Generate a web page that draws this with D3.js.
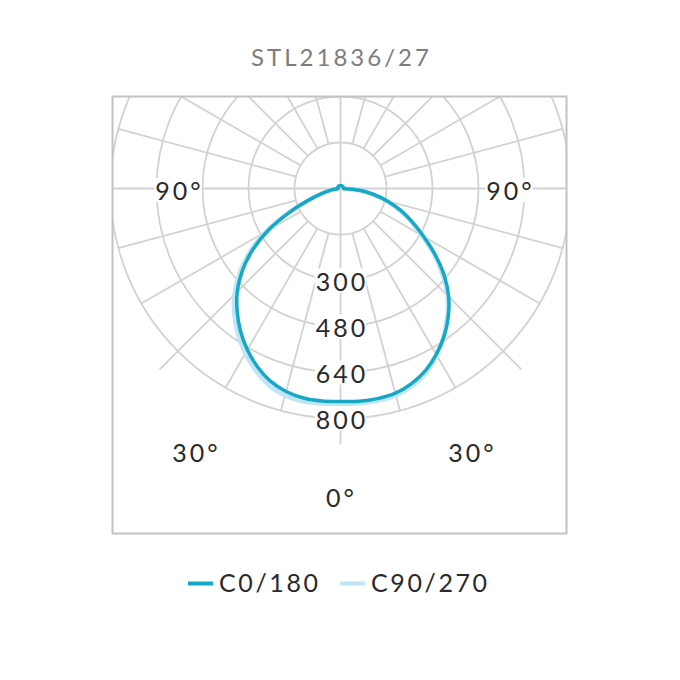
<!DOCTYPE html>
<html>
<head>
<meta charset="utf-8">
<script src="https://cdn.jsdelivr.net/npm/d3@7/dist/d3.min.js"></script>
<style>
  html, body { margin: 0; padding: 0; background: #fff; }
  svg { display: block; }
  text { font-family: Lato, "Noto Sans", sans-serif; }
</style>
</head>
<body>
<svg id="chart" width="680" height="680"></svg>
<script>
// ---- data ----
const title = "STL21836/27";
const angles = [0,5,10,15,20,25,30,35,40,45,50,55,60,65,70,75,80,85,90,
                95,100,105,110,115,120,125,130,135,140,145,150,155,160,165,170,175,180];
// C0/180 (dark): right half = C0, left half = C180
const c0   = [741,743,742,737,722,699,666,628,583,532,471,402,334,276,223,170,115,63,14,
              10,10,10,10,10,10,10,10,10,10,10,10,10,10,10,10,10,10];
const c180 = [741,742,740,731,713,684,648,606,559,508,446,374,290,196,118,66,34,17,8,
              10,10,10,10,10,10,10,10,10,10,10,10,10,10,10,10,10,10];
// C90/270 (light): right half = C90, left half = C270
const c90  = [749,750,749,745,730,706,670,626,578,526,463,396,328,270,216,162,110,60,12,
              10,10,10,10,10,10,10,10,10,10,10,10,10,10,10,10,10,10];
const c270 = [749,751,752,745,728,698,662,621,574,522,458,385,298,200,118,66,34,17,8,
              10,10,10,10,10,10,10,10,10,10,10,10,10,10,10,10,10,10];
const ringValues = [160, 320, 480, 640, 800];
const ringLabels = ["", "300", "480", "640", "800"];
const spokeAngles = [0,15,30,45,60,75,90,105,120,135,150,165,180,195,210,225,240,255,270,285,300,315,330,345];
const angleLabels = ["90°", "90°", "30°", "30°", "0°"];
const seriesNames = ["C0/180", "C90/270"];
const seriesColors = ["#17a8c6", "#bfe5f6"];

// ---- layout ----
const svg = d3.select("#chart");
const cx = 340.5, cy = 188.5;
const box = {x: 112.5, y: 96.5, w: 454, h: 437};
const r = d3.scaleLinear().domain([0, 800]).range([0, 230]);
const gridColor = "#d2d2d2";
const textColor = "#2a2a2a";

// title
svg.append("text")
  .attr("x", 340).attr("y", 58).attr("dy", "0.35em").attr("dx", 1.5)
  .attr("text-anchor", "middle")
  .attr("fill", "#7d7d7d")
  .attr("font-size", 24)
  .attr("letter-spacing", 3)
  .text(title);

svg.append("defs").append("clipPath").attr("id", "boxclip")
  .append("rect").attr("x", box.x).attr("y", box.y).attr("width", box.w).attr("height", box.h);

const g = svg.append("g").attr("clip-path", "url(#boxclip)");
const pg = g.append("g").attr("transform", `translate(${cx},${cy})`);

// rings
pg.selectAll("circle.ring").data(ringValues).join("circle")
  .attr("class", "ring")
  .attr("r", d => r(d))
  .attr("fill", "none").attr("stroke", gridColor).attr("stroke-width", 1.8);

// spokes: angle measured from downward vertical
const inner = r(ringValues[0]);
const outer = r(ringValues[ringValues.length - 1]);
function spokeStart(a) { return (a % 90 === 0) ? 0 : inner; }
function spokeEnd(a) { return (a === 0 || a === 45 || a === 315) ? 256 : (a % 90 === 0 ? 400 : outer); }
pg.selectAll("line.spoke").data(spokeAngles).join("line")
  .attr("class", "spoke")
  .attr("x1", a => spokeStart(a) * Math.sin(a * Math.PI / 180))
  .attr("y1", a => spokeStart(a) * Math.cos(a * Math.PI / 180))
  .attr("x2", a => spokeEnd(a) * Math.sin(a * Math.PI / 180))
  .attr("y2", a => spokeEnd(a) * Math.cos(a * Math.PI / 180))
  .attr("stroke", gridColor).attr("stroke-width", 1.8);

// curves
function buildPoints(right, left) {
  const pts = [];
  for (let i = angles.length - 1; i >= 0; i--) pts.push([Math.PI - angles[i] * Math.PI / 180, r(right[i])]);
  for (let i = 1; i < angles.length - 1; i++) pts.push([Math.PI + angles[i] * Math.PI / 180, r(left[i])]);
  return pts;
}
const radial = d3.lineRadial().angle(d => d[0]).radius(d => d[1]).curve(d3.curveCatmullRomClosed.alpha(0.5));
pg.append("path").attr("d", radial(buildPoints(c90, c270)))
  .attr("fill", "none").attr("stroke", seriesColors[1]).attr("stroke-width", 4.5).attr("stroke-linejoin", "round");
pg.append("path").attr("d", radial(buildPoints(c0, c180)))
  .attr("fill", "none").attr("stroke", seriesColors[0]).attr("stroke-width", 3.5).attr("stroke-linejoin", "round");

// labels with white background
const labelLayer = svg.append("g");
function addLabel(x, y, t) {
  const gg = labelLayer.append("g");
  const rect = gg.append("rect").attr("fill", "#fff");
  const tx = gg.append("text").attr("x", x).attr("y", y).attr("dy", "0.36em").attr("dx", 1.5)
    .attr("text-anchor", "middle").attr("fill", textColor)
    .attr("font-size", 25).attr("letter-spacing", 3).text(t);
  const b = tx.node().getBBox();
  rect.attr("x", b.x - 1).attr("y", b.y + 3).attr("width", b.width - 1).attr("height", b.height - 6);
}
ringValues.forEach((v, i) => { if (ringLabels[i]) addLabel(cx, cy + r(v) + 1, ringLabels[i]); });
const anglePos = [[178, 191], [509, 191], [195, 453], [471, 453], [340, 497.5]];
angleLabels.forEach((t, i) => addLabel(anglePos[i][0], anglePos[i][1], t));

// box
svg.append("rect").attr("x", box.x).attr("y", box.y).attr("width", box.w).attr("height", box.h)
  .attr("fill", "none").attr("stroke", "#c2c2c2").attr("stroke-width", 2);

// legend
const legendItems = [{x: 188, tx: 219}, {x: 340, tx: 371}];
seriesNames.forEach((name, i) => {
  svg.append("line").attr("x1", legendItems[i].x).attr("x2", legendItems[i].x + 25)
    .attr("y1", 583.5).attr("y2", 583.5)
    .attr("stroke", seriesColors[i]).attr("stroke-width", 4);
  svg.append("text").attr("x", legendItems[i].tx).attr("y", 583).attr("dy", "0.36em")
    .attr("fill", textColor).attr("font-size", 25).attr("letter-spacing", 2.6).text(name);
});
</script>
</body>
</html>
